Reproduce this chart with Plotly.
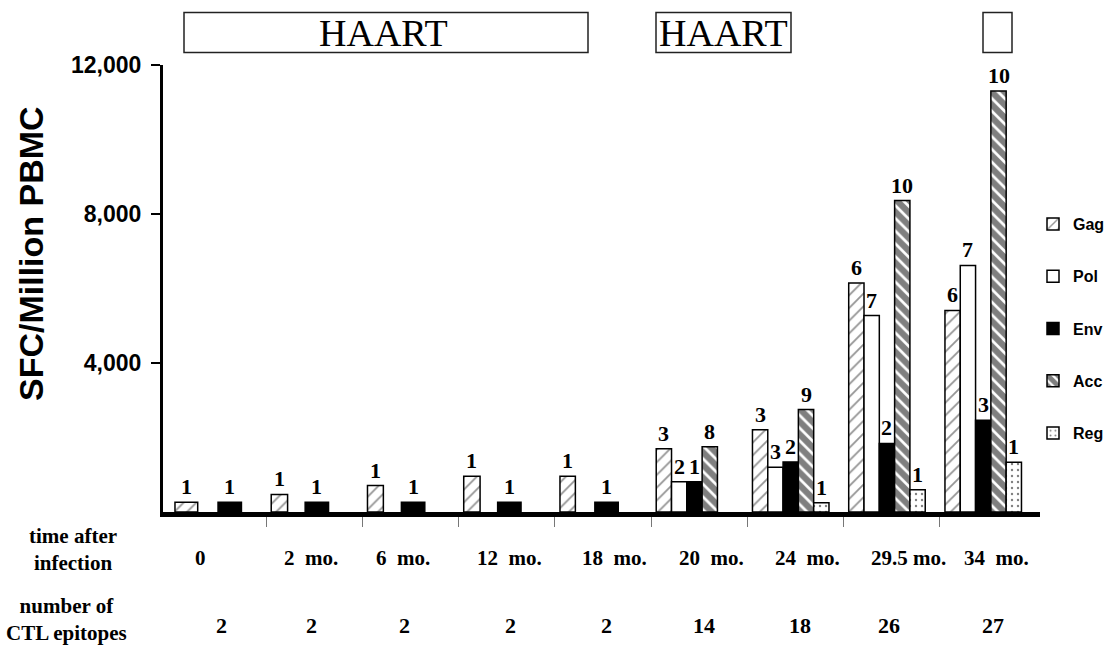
import plotly.graph_objects as go

# ---------------- data ----------------
groups = ["0", "2 mo.", "6 mo.", "12 mo.", "18 mo.", "20 mo.", "24 mo.", "29.5 mo.", "34 mo."]
epitopes = [2, 2, 2, 2, 2, 14, 18, 26, 27]

gag = [260, 470, 710, 960, 960, 1700, 2210, 6145, 5410]
pol = [None, None, None, None, None, 810, 1200, 5275, 6620]
env = [260, 260, 260, 260, 260, 810, 1345, 1840, 2460]
acc = [None, None, None, None, None, 1750, 2750, 8360, 11300]
reg = [None, None, None, None, None, None, 250, 600, 1335]

gag_n = [1, 1, 1, 1, 1, 3, 3, 6, 6]
pol_n = [None, None, None, None, None, 2, 3, 7, 7]
env_n = [1, 1, 1, 1, 1, 1, 2, 2, 3]
acc_n = [None, None, None, None, None, 8, 9, 10, 10]
reg_n = [None, None, None, None, None, None, 1, 1, 1]

# ---------------- style ----------------
SERIF = "Liberation Serif, Times New Roman, serif"
SANS = "Liberation Sans, Arial, sans-serif"
SLOT = 0.159          # width of one bar slot (axis units) in 5-slot groups
N = len(groups)
early = [p is None for p in pol]   # early time points: only Gag / Env shown, wider bars

def geometry(slot_idx, early_w, early_off):
    offs, wids = [], []
    for i in range(N):
        if early[i]:
            offs.append(early_off[i] if isinstance(early_off, list) else early_off)
            wids.append(early_w[i] if isinstance(early_w, list) else early_w)
        else:
            offs.append((slot_idx - 2.5) * SLOT)
            wids.append(SLOT)
    return offs, wids

geo = {
    "Gag": geometry(0, [0.236, 0.17, 0.165, 0.17, 0.16], -2.5 * SLOT),
    "Pol": geometry(1, SLOT, -1.5 * SLOT),
    "Env": geometry(2, 0.243, [0.05, -0.045, -0.045, -0.045, -0.035]),
    "Acc": geometry(3, SLOT, 0.5 * SLOT),
    "Reg": geometry(4, SLOT, 1.5 * SLOT),
}

patterns = {
    "Gag": dict(shape="/", fgcolor="#2a2a2a", bgcolor="white", size=9, solidity=0.2),
    "Pol": dict(shape="", bgcolor="white"),
    "Env": dict(shape="", bgcolor="black"),
    "Acc": dict(shape="\\", fgcolor="black", bgcolor="white", size=9, solidity=0.7),
    "Reg": dict(shape=".", fgcolor="black", bgcolor="white", size=6, solidity=0.12),
}
colors = {"Gag": "white", "Pol": "white", "Env": "black", "Acc": "white", "Reg": "white"}

series = [("Gag", gag, gag_n), ("Pol", pol, pol_n), ("Env", env, env_n),
          ("Acc", acc, acc_n), ("Reg", reg, reg_n)]

fig = go.Figure()
x = list(range(N))
annotations = []
for name, vals, nums in series:
    offs, wids = geo[name]
    fig.add_trace(go.Bar(
        x=x, y=vals, name=f"<b>{name}</b>", legendgroup=name,
        offset=offs, width=wids,
        marker=dict(color=colors[name], line=dict(color="black", width=1.5),
                    pattern=patterns[name]),
        hoverinfo="skip",
    ))
    for i in range(N):
        if vals[i] is None or nums[i] is None:
            continue
        annotations.append(dict(
            x=x[i] + offs[i] + wids[i] / 2, y=vals[i], xref="x", yref="y",
            text=f"<b>{nums[i]}</b>", showarrow=False,
            xanchor="center", yanchor="bottom", yshift=1,
            font=dict(family=SERIF, size=22, color="black"),
        ))

# plot-area geometry (px)
L, R, T, B = 163, 70, 65, 134
W = 1110 - L - R
H = 646 - T - B
def px_x(p):
    return (p - L) / W
def px_y(p):
    return (646 - B - p) / H

def note(**kw):
    base = dict(showarrow=False, xanchor="center", yanchor="middle")
    base.update(kw)
    annotations.append(base)

# time after infection / epitope rows
time_shift = [-13, 2, -3, 8, 16, 17, 17, 22, 13]
epi_shift = [8, 2, -1, 9, 8, 10, 9, 2, 10]
for i in range(N):
    lab = groups[i].replace(" mo.", "\u00a0\u00a0mo.").replace(".5\u00a0\u00a0", ".5\u00a0")
    note(x=i, y=px_y(558), xref="x", yref="paper", xshift=time_shift[i],
         text=f"<b>{lab}</b>", font=dict(family=SERIF, size=21, color="black"))
    note(x=i, y=px_y(625), xref="x", yref="paper", xshift=epi_shift[i],
         text=f"<b>{epitopes[i]}</b>", font=dict(family=SERIF, size=22, color="black"))
note(x=px_x(73), y=px_y(549), xref="paper", yref="paper",
     text="<b>time after<br>infection</b>", font=dict(family=SERIF, size=21, color="black"))
note(x=px_x(66), y=px_y(619), xref="paper", yref="paper",
     text="<b>number of<br>CTL epitopes</b>", font=dict(family=SERIF, size=21, color="black"))
# y title
note(x=px_x(31), y=px_y(254), xref="paper", yref="paper",
     text="<b>SFC/Million PBMC</b>", textangle=-90,
     font=dict(family=SANS, size=34, color="black"))
# HAART boxes
shapes = []
boxes = [(184, 588, "HAART", 383), (656, 791, "HAART", 723), (983, 1012, "", None)]
for x0, x1, label, tx in boxes:
    shapes.append(dict(type="rect", xref="paper", yref="paper", layer="below",
                       x0=px_x(x0), x1=px_x(x1), y0=px_y(52.5), y1=px_y(12.5),
                       line=dict(color="#222", width=1.5), fillcolor="rgba(0,0,0,0)"))
    if label:
        note(x=px_x(tx), y=px_y(33), xref="paper", yref="paper", text=label,
             font=dict(family=SERIF, size=38, color="black"))

fig.update_layout(
    width=1110, height=646,
    margin=dict(l=L, r=R, t=T, b=B, autoexpand=False),
    plot_bgcolor="white", paper_bgcolor="white",
    barmode="overlay",
    showlegend=True,
    legend=dict(xref="container", yref="container", x=1033 / 1110, y=1 - 207 / 646,
                xanchor="left", yanchor="top", tracegroupgap=28.5, itemwidth=30,
                font=dict(family=SANS, size=16, color="black"),
                bgcolor="rgba(0,0,0,0)"),
    xaxis=dict(range=[-0.522, 8.59], showline=True, linewidth=5, linecolor="black",
               ticks="outside", tickvals=[i + 0.55 for i in range(8)], ticklen=10,
               tickwidth=1, tickcolor="#777", showticklabels=False,
               showgrid=False, zeroline=False, fixedrange=True),
    yaxis=dict(range=[0, 12000], showline=True, linewidth=3, linecolor="black",
               ticks="outside", tickvals=[4000, 8000, 12000],
               ticktext=["4,000", "8,000", "12,000"], ticklen=9, tickwidth=2,
               tickcolor="black", ticklabelstandoff=5,
               tickfont=dict(family=SANS, size=23, color="black", weight="bold"),
               showgrid=False, zeroline=False, fixedrange=True),
    annotations=annotations,
    shapes=shapes,
)

fig.write_html("out.html", config={"displayModeBar": False},
               post_script="document.body.style.margin='0';")
